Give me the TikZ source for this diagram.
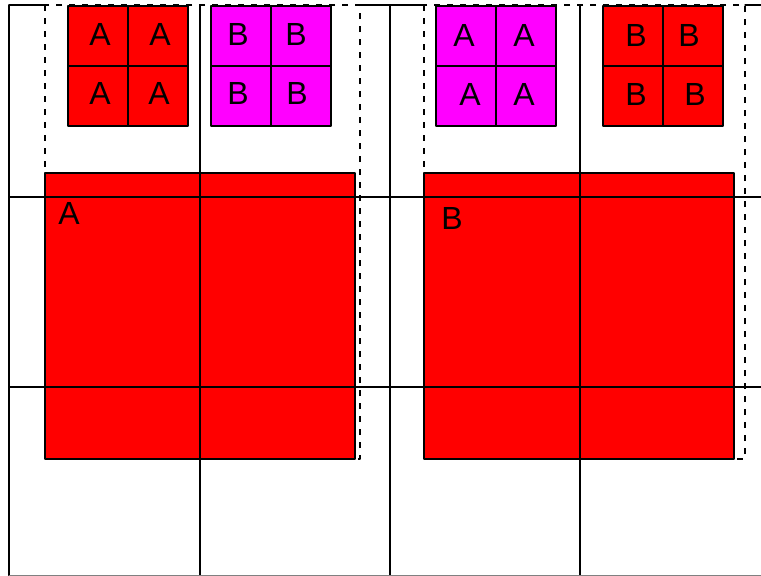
\documentclass[tikz,border=0pt]{standalone}
\usepackage{fontspec}
\setmainfont{Liberation Sans}
\definecolor{tilered}{HTML}{FF0000}
\definecolor{tilemag}{HTML}{FF00FF}

\begin{document}
\begin{tikzpicture}[x=1pt,y=-1pt,line cap=round,line join=round,line width=1.2pt,
    letter/.style={font=\fontsize{32}{38}\selectfont,inner sep=0pt},
    frame/.style={dash pattern=on 6pt off 7pt,line cap=butt,line width=1.4pt}]
    \useasboundingbox (0,0) rectangle (761,576);
    % dashed frames round each pair of tiles
    \draw[frame] (45,5) rectangle (360,459);
    \draw[frame] (424,5) rectangle (745,459);
    \draw (9,5) -- (45,5) (360,5) -- (424,5) (745,5) -- (761,5);
    % big blocks
    \draw[fill=tilered] (45,173) rectangle (355,459);
    \draw[fill=tilered] (424,173) rectangle (734,459);
    % small 2x2 tiles
    \draw[fill=tilered] (68,6) rectangle (188,126);
    \draw (128,6) -- (128,126) (68,66) -- (188,66);
    \draw[fill=tilemag] (211,6) rectangle (331,126);
    \draw (271,6) -- (271,126) (211,66) -- (331,66);
    \draw[fill=tilemag] (436,6) rectangle (556,126);
    \draw (496,6) -- (496,126) (436,66) -- (556,66);
    \draw[fill=tilered] (603,6) rectangle (723,126);
    \draw (663,6) -- (663,126) (603,66) -- (723,66);
    % grid on top
    \draw (9,5) -- (9,576) (200,5) -- (200,576)
          (390,5) -- (390,576) (580,5) -- (580,576);
    \draw (9,197) -- (761,197) (9,387) -- (761,387);
    \draw[gray] (9,576) -- (761,576);
    % letters
    \node[letter] (ra1) at (100,34) {A};
    \node[letter] (ra2) at (160,34) {A};
    \node[letter] (ra3) at (100,93) {A};
    \node[letter] (ra4) at (159,93) {A};
    \node[letter] (mb1) at (238,34) {B};
    \node[letter] (mb2) at (296,34) {B};
    \node[letter] (mb3) at (238,93) {B};
    \node[letter] (mb4) at (297,93) {B};
    \node[letter] (ma1) at (464,35) {A};
    \node[letter] (ma2) at (524,35) {A};
    \node[letter] (ma3) at (470,94) {A};
    \node[letter] (ma4) at (524,94) {A};
    \node[letter] (rb1) at (636,35) {B};
    \node[letter] (rb2) at (689,35) {B};
    \node[letter] (rb3) at (636,94) {B};
    \node[letter] (rb4) at (695,94) {B};
    \node[letter] (bigA) at (69,213) {A};
    \node[letter] (bigB) at (452,218) {B};
\end{tikzpicture}
\end{document}
